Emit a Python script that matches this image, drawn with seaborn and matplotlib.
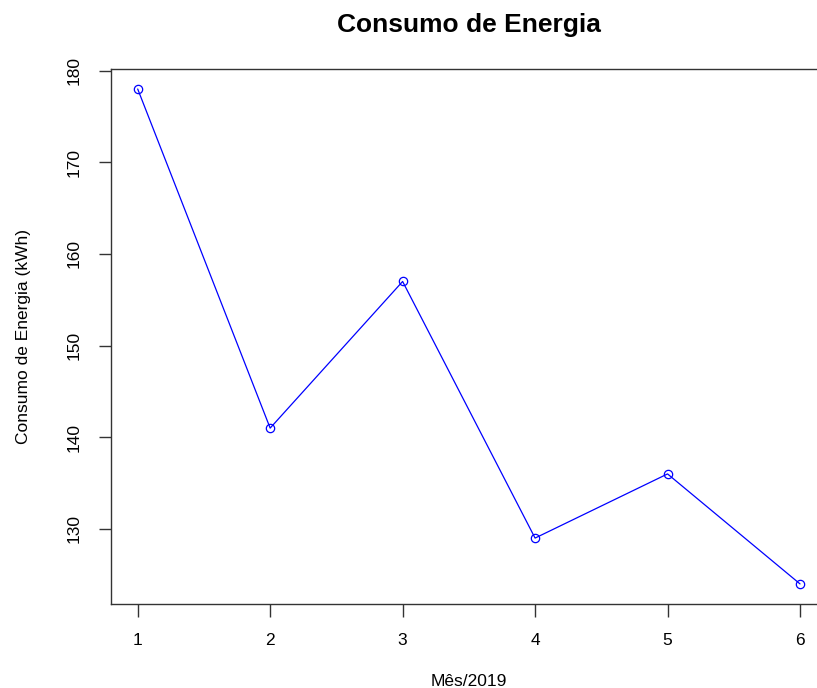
import matplotlib
matplotlib.use("Agg")
import matplotlib.pyplot as plt
import seaborn as sns
import pandas as pd

meses = [1, 2, 3, 4, 5, 6]
consumo_kwh = [178, 141, 157, 129, 136, 124]
y_ticks = [130, 140, 150, 160, 170, 180]

sns.set_style("ticks")
plt.rcParams["font.family"] = ["Liberation Sans", "DejaVu Sans"]
plt.rcParams["text.color"] = "black"
plt.rcParams["axes.labelcolor"] = "black"
plt.rcParams["xtick.labelcolor"] = "black"
plt.rcParams["ytick.labelcolor"] = "black"

df = pd.DataFrame({"mes": meses, "consumo": consumo_kwh})

fig = plt.figure(figsize=(8.17, 6.88), dpi=100)
ax = fig.add_axes([111.2 / 817, 1 - 603.7 / 688, (826.5 - 111.2) / 817, (603.7 - 69.2) / 688])

sns.lineplot(data=df, x="mes", y="consumo", ax=ax, color="blue", linewidth=0.9,
             marker="o", markersize=6, markerfacecolor="none",
             markeredgecolor="blue", markeredgewidth=0.9)

span = max(consumo_kwh) - min(consumo_kwh)
ax.set_ylim(min(consumo_kwh) - 0.04 * span, max(consumo_kwh) + 0.04 * span)
ax.set_xlim(min(meses) - 0.2, max(meses) + 0.2)
ax.set_xticks(meses)
ax.set_yticks(y_ticks)
ax.set_yticklabels([str(t) for t in y_ticks], rotation=90, va="center")

for side in ["top", "left", "bottom"]:
    ax.spines[side].set_color("#333333")
    ax.spines[side].set_linewidth(1.0)
ax.spines["right"].set_visible(False)

ax.tick_params(axis="both", length=9, width=1, color="#333333", labelsize=12.5, pad=12)
ax.set_xlabel("Mês/2019", fontsize=12.5, labelpad=19, color="black")
ax.set_ylabel("Consumo de Energia (kWh)", fontsize=12.5, labelpad=26, color="black")
ax.set_title("Consumo de Energia", fontsize=19, fontweight="bold", pad=27, color="black")

fig.savefig("out.png", dpi=100)
